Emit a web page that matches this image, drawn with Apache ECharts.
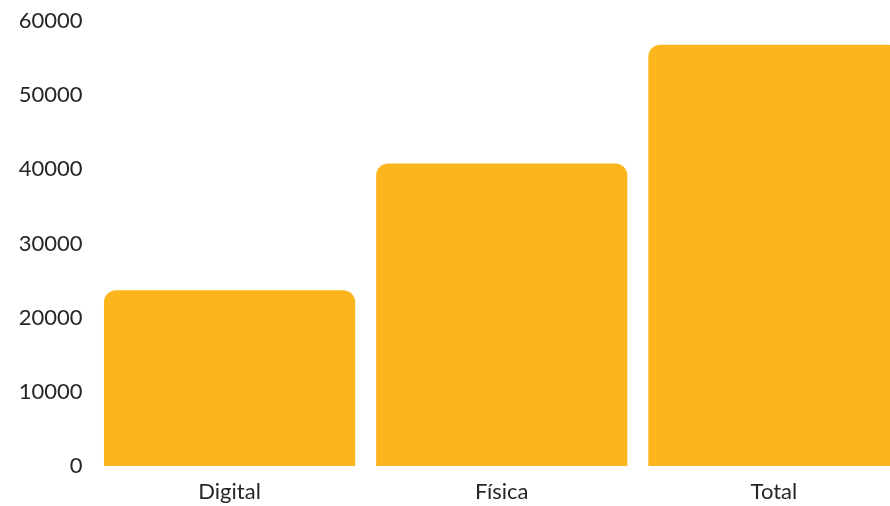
<!DOCTYPE html>
<html>
<head>
<meta charset="utf-8">
<script src="https://cdn.jsdelivr.net/npm/echarts@6/dist/echarts.min.js"></script>
<style>html,body{margin:0;padding:0;background:#fff;overflow:hidden;width:890px;height:506px}#c{width:910px;height:506px}</style>
</head>
<body>
<div id="c"></div>
<script>
const categories = ['Digital', 'Física', 'Total'];
const values = [23700, 40800, 56800];
const yTicks = [0, 10000, 20000, 30000, 40000, 50000, 60000];

const chart = echarts.init(document.getElementById('c'), null, {renderer: 'canvas', width: 910, height: 506});
chart.setOption({
  animation: false,
  grid: {left: 93.5, top: 21, bottom: 40, right: 0, containLabel: false},
  xAxis: {
    type: 'category',
    data: categories,
    axisLine: {show: false},
    axisTick: {show: false},
    axisLabel: {color: '#262626', fontFamily: 'Lato', fontSize: 22, margin: 15}
  },
  yAxis: {
    type: 'value',
    min: yTicks[0],
    max: yTicks[yTicks.length - 1],
    interval: 10000,
    splitLine: {show: false},
    axisLine: {show: false},
    axisTick: {show: false},
    axisLabel: {color: '#262626', fontFamily: 'Lato', fontSize: 22, margin: 11, formatter: v => String(v)}
  },
  series: [{
    type: 'bar',
    data: values,
    barCategoryGap: '7.7%',
    itemStyle: {color: '#FDB51E', borderRadius: [12, 12, 0, 0]}
  }]
});
</script>
</body>
</html>
